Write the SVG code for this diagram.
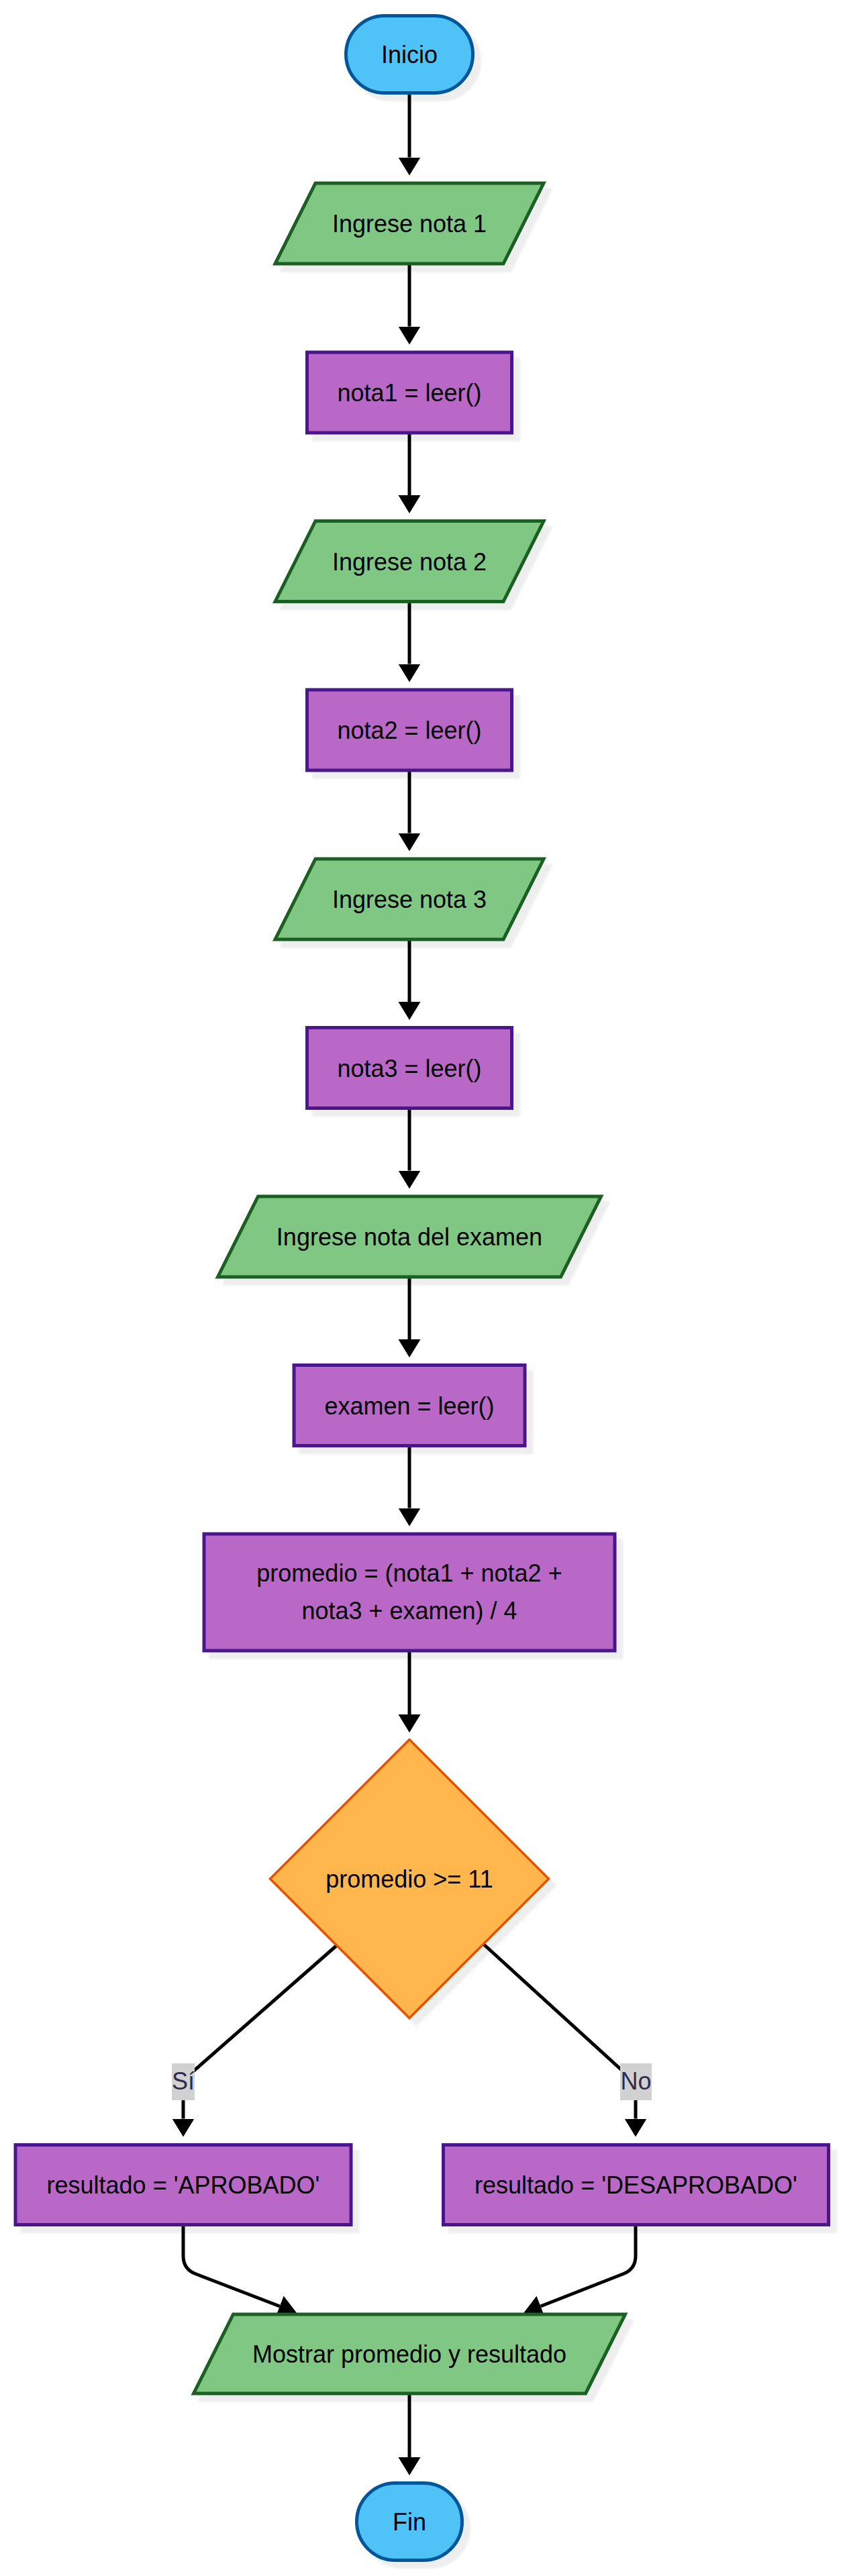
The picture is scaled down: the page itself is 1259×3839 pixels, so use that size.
<svg xmlns="http://www.w3.org/2000/svg" width="1259" height="3839" viewBox="0 0 1259 3839">
<style>
  .t { font-family: "Liberation Sans", Arial, sans-serif; font-size: 36px; fill: #000; text-anchor: middle; }
  .lbl { font-family: "Liberation Sans", Arial, sans-serif; font-size: 36px; fill: #2f2b4e; text-anchor: middle; }
  .term { fill: #4fc3f7; stroke: #01579b; stroke-width: 5; filter: url(#sh); }
  .io { fill: #81c784; stroke: #1b5e20; stroke-width: 5; filter: url(#sh); }
  .proc { fill: #ba68c8; stroke: #4a148c; stroke-width: 5; filter: url(#sh); }
  .dec { fill: #ffb74d; stroke: #e65100; stroke-width: 3.5; filter: url(#sh); }
  .edge { fill: none; stroke: #000; stroke-width: 5; marker-end: url(#arr); }
  .lblbg { fill: #d1d1d1; }
</style>
<defs>
  <filter id="sh" x="-10%" y="-10%" width="130%" height="130%">
    <feDropShadow dx="10" dy="10" stdDeviation="1.5" flood-color="#000" flood-opacity="0.065"/>
  </filter>
  <marker id="arr" markerUnits="userSpaceOnUse" markerWidth="28" markerHeight="34" refX="0" refY="16.5" orient="auto">
    <path d="M0,0 L27,16.5 L0,33 z" fill="#000"/>
  </marker>
</defs>
<rect width="1259" height="3839" fill="#fff"/>
<g id="connectors">
  <path class="edge" d="M610 138.5 L610 234.5"/>
  <path class="edge" d="M610 393 L610 486.5"/>
  <path class="edge" d="M610 645 L610 738"/>
  <path class="edge" d="M610 896.5 L610 989.5"/>
  <path class="edge" d="M610 1148 L610 1241.5"/>
  <path class="edge" d="M610 1400 L610 1493"/>
  <path class="edge" d="M610 1651.5 L610 1744.5"/>
  <path class="edge" d="M610 1903 L610 1996"/>
  <path class="edge" d="M610 2154.5 L610 2247.5"/>
  <path class="edge" d="M610 2460 L610 2555"/>
  <path class="edge" d="M502 2899 L273 3100 L273 3157.5"/>
  <path class="edge" d="M720 2897 L947 3104 L947 3157.5"/>
  <path class="edge" d="M273 3315 L273 3362 Q273 3382 292 3389 L416.7 3437"/>
  <path class="edge" d="M947 3315 L947 3362 Q947 3382 928 3389 L805.5 3437"/>
  <path class="edge" d="M610 3567 L610 3662"/>
  <g id="label-si">
    <rect class="lblbg" x="256" y="3075" width="34" height="55"/>
    <text class="lbl" x="273" y="3114">Sí</text>
  </g>
  <g id="label-no">
    <rect class="lblbg" x="924" y="3075" width="47" height="55"/>
    <text class="lbl" x="947.5" y="3114">No</text>
  </g>
</g>
<g id="inicio">
  <rect class="term" x="515.5" y="23.5" width="189" height="115" rx="57.5" ry="57.5"/>
  <text class="t" x="610" y="94">Inicio</text>
</g>
<g id="ingrese1">
  <polygon class="io" points="470,273 810,273 750,393 410,393"/>
  <text class="t" x="610" y="346">Ingrese nota 1</text>
</g>
<g id="nota1">
  <rect class="proc" x="457.5" y="525" width="305" height="120"/>
  <text class="t" x="610" y="598">nota1 = leer()</text>
</g>
<g id="ingrese2">
  <polygon class="io" points="470,776.5 810,776.5 750,896.5 410,896.5"/>
  <text class="t" x="610" y="849.5">Ingrese nota 2</text>
</g>
<g id="nota2">
  <rect class="proc" x="457.5" y="1028" width="305" height="120"/>
  <text class="t" x="610" y="1101">nota2 = leer()</text>
</g>
<g id="ingrese3">
  <polygon class="io" points="470,1280 810,1280 750,1400 410,1400"/>
  <text class="t" x="610" y="1353">Ingrese nota 3</text>
</g>
<g id="nota3">
  <rect class="proc" x="457.5" y="1531.5" width="305" height="120"/>
  <text class="t" x="610" y="1604.5">nota3 = leer()</text>
</g>
<g id="ingreseExamen">
  <polygon class="io" points="384.5,1783 895.5,1783 835.5,1903 324.5,1903"/>
  <text class="t" x="610" y="1856">Ingrese nota del examen</text>
</g>
<g id="examen">
  <rect class="proc" x="438" y="2034.5" width="344" height="120"/>
  <text class="t" x="610" y="2107.5">examen = leer()</text>
</g>
<g id="promedio">
  <rect class="proc" x="304" y="2286" width="612" height="174"/>
  <text class="t" x="610" y="2357">promedio = (nota1 + nota2 +</text>
  <text class="t" x="610" y="2413">nota3 + examen) / 4</text>
</g>
<g id="decision">
  <polygon class="dec" points="610,2592.5 817.5,2800 610,3007.5 402.5,2800"/>
  <text class="t" x="610" y="2813">promedio &gt;= 11</text>
</g>
<g id="aprobado">
  <rect class="proc" x="23" y="3196.5" width="500" height="119"/>
  <text class="t" x="273" y="3269">resultado = 'APROBADO'</text>
</g>
<g id="desaprobado">
  <rect class="proc" x="660.5" y="3196.5" width="574" height="119"/>
  <text class="t" x="947.5" y="3269">resultado = 'DESAPROBADO'</text>
</g>
<g id="mostrar">
  <polygon class="io" points="347.5,3449 931.5,3449 872.5,3567 288.5,3567"/>
  <text class="t" x="610" y="3521">Mostrar promedio y resultado</text>
</g>
<g id="fin">
  <rect class="term" x="531.5" y="3700.5" width="157" height="115" rx="57.5" ry="57.5"/>
  <text class="t" x="610" y="3771">Fin</text>
</g>
</svg>
